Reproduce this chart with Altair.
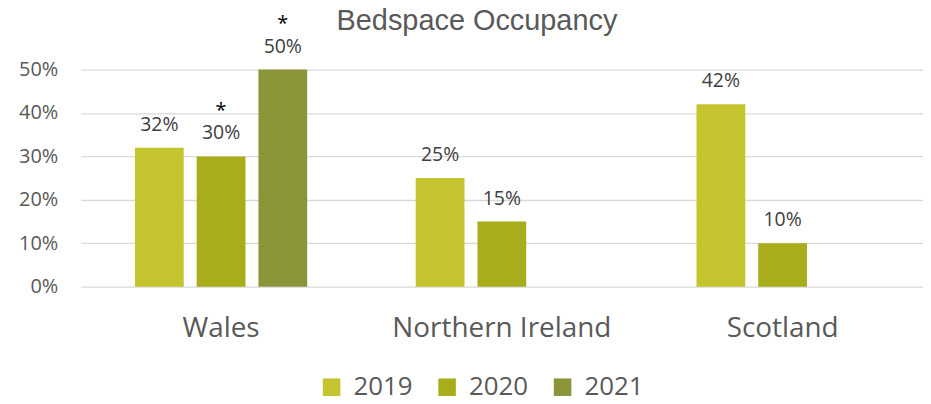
import altair as alt
import pandas as pd

title = ["Bedspace Occupancy"]
regions = ["Wales", "Wales", "Wales", "Northern Ireland", "Northern Ireland", "Scotland", "Scotland"]
years = ["2019", "2020", "2021", "2019", "2020", "2019", "2020"]
values = [0.32, 0.30, 0.50, 0.25, 0.15, 0.42, 0.10]
notes = ["", "*", "*", "", "", "", ""]

region_order = ["Wales", "Northern Ireland", "Scotland"]
year_order = ["2019", "2020", "2021"]
colors = ["#C4C42E", "#A8AD1C", "#8C943A"]

df = pd.DataFrame({"Region": regions, "Year": years, "Value": values, "Note": notes})

x = alt.X("Region:N", sort=region_order, title=None,
          scale=alt.Scale(paddingInner=0, paddingOuter=0),
          axis=alt.Axis(labelAngle=0, labelFontSize=28, labelColor="#595959",
                        labelFont="Open Sans", labelPadding=28, ticks=False,
                        domain=False, grid=False, labelLimit=0))
xo = alt.XOffset("Year:N", sort=year_order,
                 scale=alt.Scale(paddingInner=0.21, paddingOuter=0.879))
y = alt.Y("Value:Q", title=None,
          scale=alt.Scale(domain=[0, 0.5], nice=False),
          axis=alt.Axis(format=".0%", values=[0, 0.1, 0.2, 0.3, 0.4, 0.5],
                        labelFontSize=20, labelColor="#595959", labelFont="Open Sans",
                        labelPadding=23, ticks=False, domain=False,
                        grid=True, gridColor="#D9D9D9", gridWidth=1.3))

bars = alt.Chart(df).mark_bar().encode(
    x=x, xOffset=xo, y=y,
    color=alt.Color("Year:N", sort=year_order,
                    scale=alt.Scale(domain=year_order, range=colors),
                    legend=alt.Legend(title=None, orient="none", direction="horizontal",
                                      legendX=239, legendY=306,
                                      symbolType="square", symbolSize=310,
                                      symbolStrokeWidth=0, symbolOpacity=1,
                                      labelFontSize=26, labelColor="#595959",
                                      labelFont="Open Sans", labelOffset=9,
                                      columnPadding=21)),
)

labels = alt.Chart(df).mark_text(dy=-17, fontSize=19.5, color="#404040",
                                 font="Open Sans", baseline="alphabetic").encode(
    x=x, xOffset=xo, y=y, text=alt.Text("Value:Q", format=".0%"))

stars = alt.Chart(df).mark_text(dy=-40, fontSize=20, color="#000000",
                                font="Open Sans", baseline="alphabetic").encode(
    x=x, xOffset=xo, y=y, text="Note:N")

title_text = alt.Chart(pd.DataFrame({"t": title})).mark_text(
    font="Liberation Sans", fontSize=29, color="#595959", baseline="middle", align="center"
).encode(text="t:N", x=alt.value(398), y=alt.value(-49))

chart = alt.layer(bars, labels, stars, title_text).properties(
    width=846, height=218,
    autosize=alt.AutoSizeParams(type="none"),
    padding={"left": 73, "top": 61, "right": 0, "bottom": 116},
).configure_view(stroke=None)

chart.save("out.html", embed_options={"renderer": "svg", "actions": False})
